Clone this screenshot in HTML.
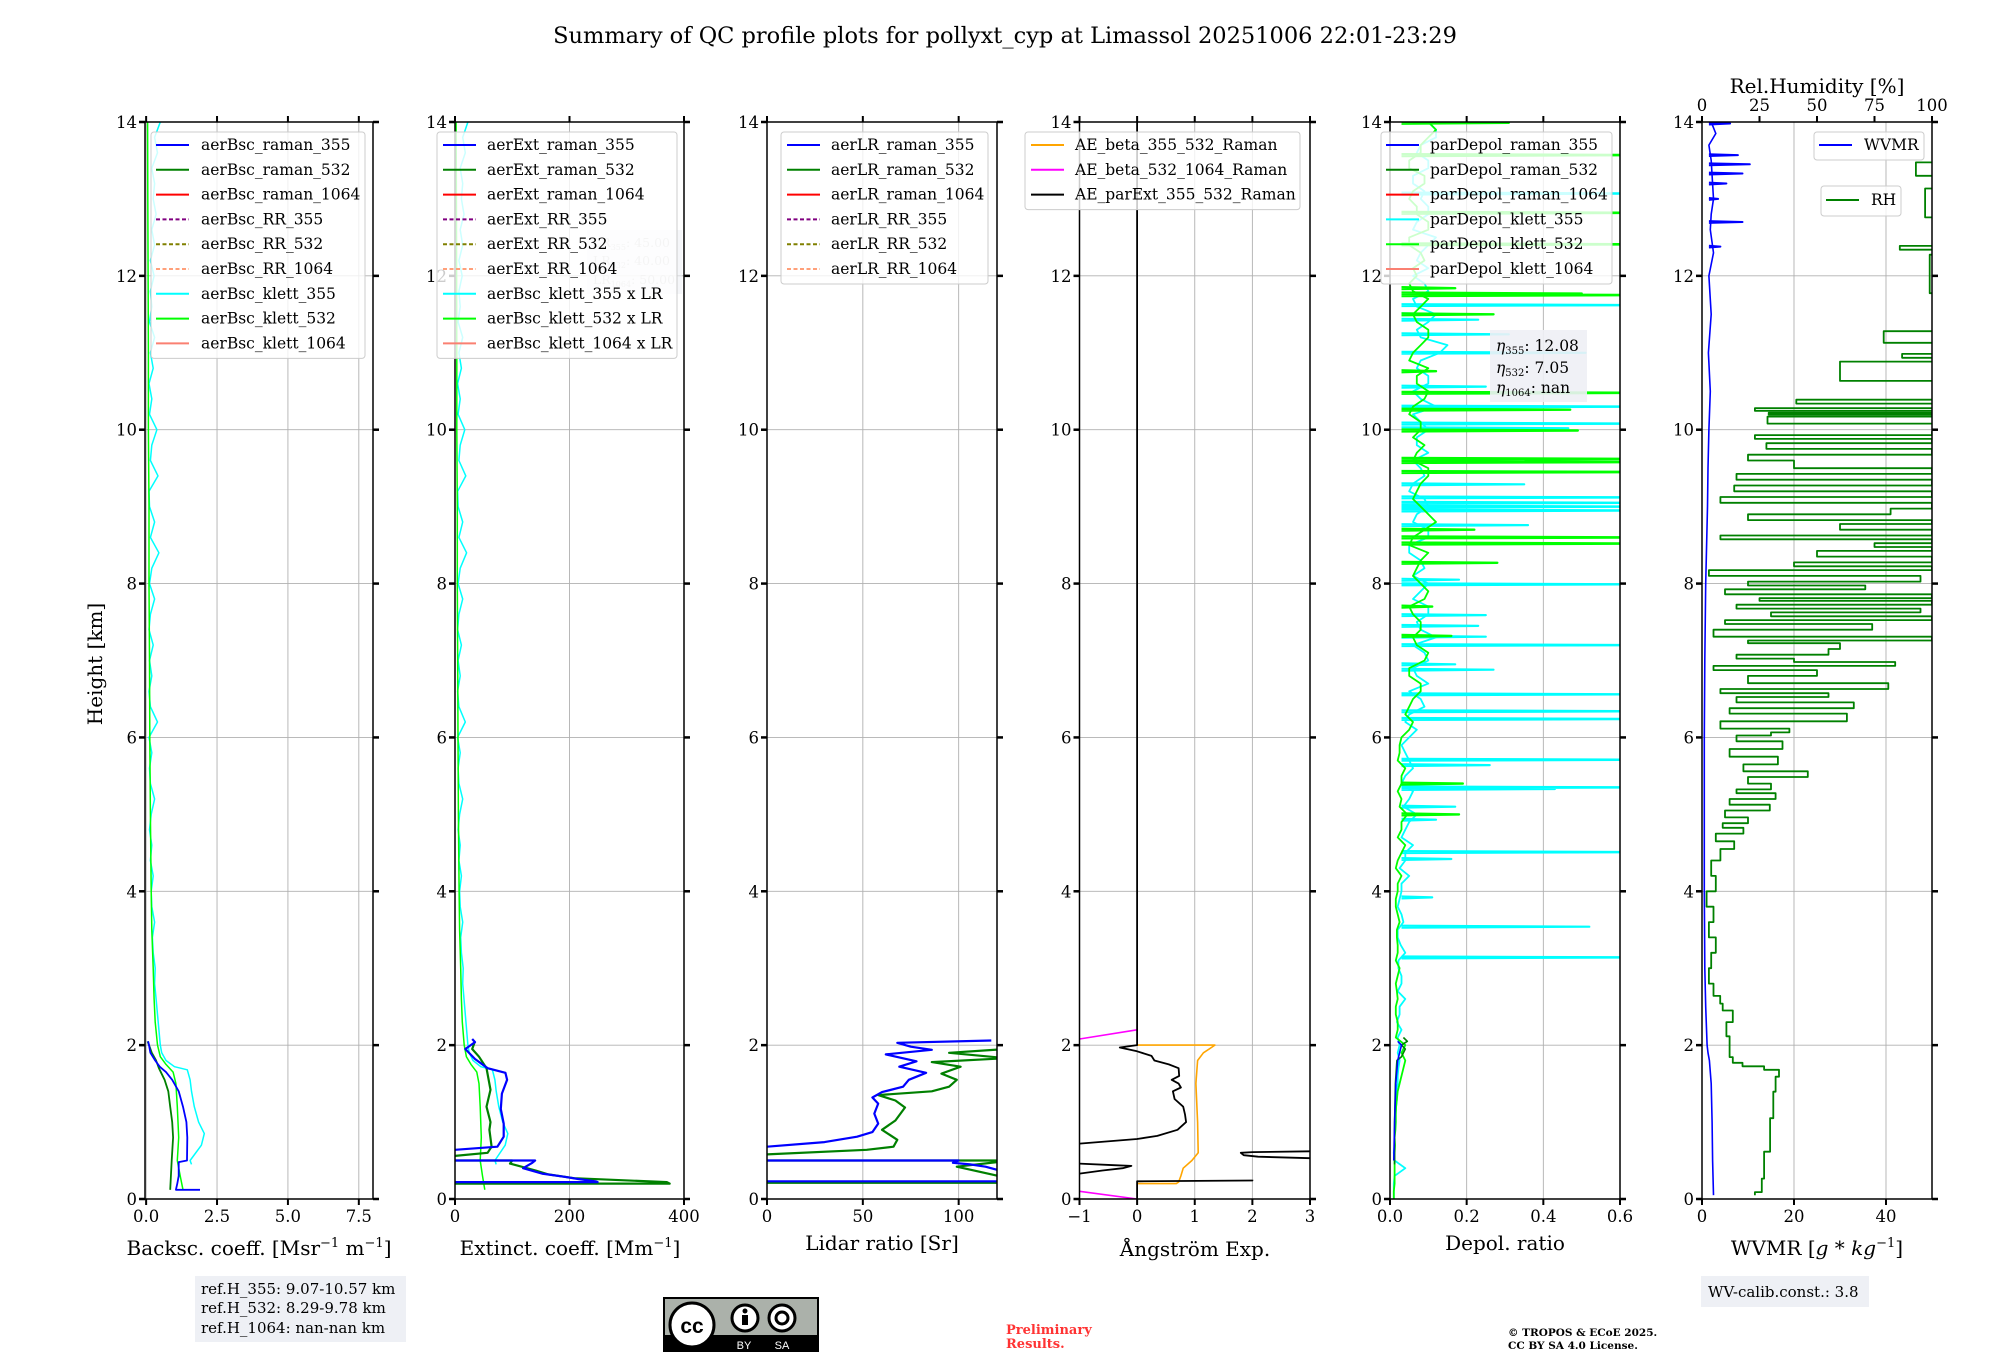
<!DOCTYPE html>
<html><head><meta charset="utf-8"><title>QC profile summary</title>
<style>
html,body{margin:0;padding:0;background:#fff;}
svg{display:block;font-family:"DejaVu Serif","Liberation Serif",serif;}
</style></head>
<body>
<svg id="fig" xmlns="http://www.w3.org/2000/svg" width="2000" height="1360" viewBox="0 0 2000 1360">
<rect x="0" y="0" width="2000" height="1360" fill="#fff"/>
<text x="1005" y="43" font-size="22.5" text-anchor="middle" fill="#000">Summary of QC profile plots for pollyxt_cyp at Limassol 20251006 22:01-23:29</text>
<text transform="translate(102,664) rotate(-90)" font-size="20" text-anchor="middle">Height [km]</text>
<text x="259" y="1255" font-size="20" text-anchor="middle">Backsc. coeff. [Msr<tspan dy="-8" font-size="13">−1</tspan><tspan dy="8"> m</tspan><tspan dy="-8" font-size="13">−1</tspan><tspan dy="8">]</tspan></text>
<text x="570" y="1255" font-size="20" text-anchor="middle">Extinct. coeff. [Mm<tspan dy="-8" font-size="13">−1</tspan><tspan dy="8">]</tspan></text>
<text x="882" y="1250" font-size="20" text-anchor="middle">Lidar ratio [Sr]</text>
<text x="1195" y="1256" font-size="20" text-anchor="middle">Ångström Exp.</text>
<text x="1505" y="1250" font-size="20" text-anchor="middle">Depol. ratio</text>
<text x="1817" y="1255" font-size="20" text-anchor="middle">WVMR [<tspan font-style="italic">g</tspan> * <tspan font-style="italic">kg</tspan><tspan dy="-8" font-size="13">−1</tspan><tspan dy="8">]</tspan></text>
<text x="1817" y="93" font-size="20" text-anchor="middle">Rel.Humidity [%]</text>
<g id="plots"></g>
<g>
<rect x="195" y="1276" width="211" height="66" fill="#eef0f5"/>
<text x="201" y="1294" font-size="15">ref.H_355: 9.07-10.57 km</text>
<text x="201" y="1313" font-size="15">ref.H_532: 8.29-9.78 km</text>
<text x="201" y="1333" font-size="15">ref.H_1064: nan-nan km</text>
</g>
<g>
<rect x="663" y="1297" width="156" height="55" fill="#000"/>
<rect x="665" y="1299" width="152" height="36" fill="#abb1aa"/>
<circle cx="692" cy="1325" r="22" fill="#fff" stroke="#000" stroke-width="3"/>
<text x="692" y="1333" font-family="Liberation Sans, sans-serif" font-weight="bold" font-size="21" text-anchor="middle">cc</text>
<circle cx="745" cy="1318" r="13" fill="#fff" stroke="#000" stroke-width="3"/>
<circle cx="745" cy="1311" r="2.5" fill="#000"/>
<rect x="742" y="1315" width="6" height="10" fill="#000"/>
<circle cx="782" cy="1318" r="13" fill="#fff" stroke="#000" stroke-width="3"/>
<circle cx="782" cy="1318" r="6" fill="none" stroke="#000" stroke-width="3"/>
<text x="744" y="1349" fill="#fff" font-family="Liberation Sans, sans-serif" font-size="11" text-anchor="middle">BY</text>
<text x="782" y="1349" fill="#fff" font-family="Liberation Sans, sans-serif" font-size="11" text-anchor="middle">SA</text>
</g>
<text x="1006" y="1334" font-size="13" font-weight="bold" fill="#ff3333">Preliminary</text>
<text x="1006" y="1348" font-size="13" font-weight="bold" fill="#ff3333">Results.</text>
<text x="1508" y="1336" font-size="10.5" font-weight="bold">© TROPOS &amp; ECoE 2025.</text>
<text x="1508" y="1349" font-size="10.5" font-weight="bold">CC BY SA 4.0 License.</text>
<rect x="1701" y="1276" width="168" height="31" fill="#eef0f5"/>
<text x="1708" y="1297" font-size="15">WV-calib.const.: 3.8</text>
</svg>
<script>
// ===== data (heights in km) =====
const yTickLabels = ["0","2","4","6","8","10","12","14"];
const yTickValues = [0,2,4,6,8,10,12,14];

// panel 1 backscatter
const bscTicks = [0,2.5,5,7.5];
const bscTickLabels = ["0.0","2.5","5.0","7.5"];
const bscH355 = [0.12,0.12,0.2,0.3,0.48,0.5,0.8,1.0,1.2,1.4,1.55,1.65,1.72,1.8,1.9,2.0,2.05];
const bscV355 = [1.9,1.05,1.1,1.15,1.15,1.44,1.45,1.42,1.3,1.15,0.92,0.7,0.48,0.32,0.15,0.1,0.07];
const bscH532 = [0.12,0.5,0.8,1.0,1.2,1.4,1.55,1.7,1.8,1.9,2.0,2.05];
const bscV532 = [0.85,0.9,0.95,0.92,0.85,0.78,0.65,0.45,0.35,0.2,0.1,0.05];
const klettBscH532 = [0.12,0.3,0.5,0.8,1.2,1.5,1.65,1.75,1.85,2.0,2.3,2.6,3,3.5,4,5,6,7,8,9,10,11,12,13,14];
const klettBscV532 = [1.3,1.2,1.1,1.15,1.1,1.05,0.95,0.7,0.5,0.4,0.32,0.28,0.25,0.2,0.18,0.15,0.13,0.12,0.1,0.1,0.08,0.08,0.07,0.06,0.05];
const klettBscLowH355 = [0.45,0.5,0.7,0.85,1.0,1.2,1.4,1.55,1.68,1.72,1.8,1.9,2.0];
const klettBscLowV355 = [1.6,1.55,1.95,2.05,1.85,1.7,1.6,1.55,1.45,1.0,0.7,0.55,0.5];
const klettBscNoiseStart = 2.2, klettBscNoiseStep = 0.2;
const klettBscNoise355 = [0.45,0.4,0.35,0.3,0.32,0.25,0.22,0.3,0.2,0.18,
 0.25,0.15,0.2,0.12,0.18,0.3,0.15,0.12,0.2,0.1,
 0.4,0.15,0.1,0.2,0.12,0.25,0.1,0.15,0.3,0.12,
 0.2,0.45,0.15,0.3,0.12,0.1,0.42,0.15,0.2,0.38,
 0.12,0.2,0.1,0.25,0.15,0.3,0.12,0.2,0.15,0.28,
 0.15,0.3,0.2,0.35,0.25,0.3,0.2,0.4,0.3,0.5];
const lidarRatio355 = 45, lidarRatio532 = 40;

// panel 2 extinction
const extTicks = [0,200,400];
const extTickLabels = ["0","200","400"];
const extH355 = [0.22,0.22,0.23,0.26,0.29,0.33,0.4,0.47,0.5,0.5,null,0.64,0.68,0.81,0.98,1.17,1.37,1.55,1.64,1.7,1.82,1.95,2.04,2.08];
const extV355 = [0,249,245,215,190,152,119,135,140,0,null,0,74,85,85,80,82,91,88,57,35,18,35,30];
const extH532 = [0.2,0.2,0.22,0.27,0.32,0.37,0.46,0.5,0.5,null,0.56,0.6,0.68,0.9,1.0,1.2,1.42,1.7,1.85,1.95,2.05];
const extV532 = [0,375,370,208,163,141,96,100,0,null,0,57,64,60,62,55,62,55,42,30,35];

// panel 3 lidar ratio
const lrTicks = [0,50,100];
const lrTickLabels = ["0","50","100"];
const lrH355 = [0.23,0.23,0.25,0.3,0.38,0.42,0.45,0.47,0.5,0.5,null,0.68,0.74,0.81,0.87,0.98,1.11,1.24,1.32,1.39,1.46,1.55,1.64,1.72,1.79,1.88,1.94,1.98,2.03,2.06];
const lrV355 = [0,130,130,125,120,114,106,97,100,0,null,0,30,47,55,58,56,58,55,60,71,74,83,69,78,62,86,75,68,117];
const lrH532 = [0.21,0.21,0.25,0.42,0.48,0.5,0.5,null,0.58,0.64,0.68,0.77,0.9,1.02,1.19,1.28,1.35,1.4,1.46,1.55,1.63,1.72,1.78,1.83,1.9,1.95,2.0];
const lrV532 = [0,130,130,99,120,125,0,null,0,52,66,68,60,67,72,67,58,86,95,99,91,101,86,125,95,125,130];

// panel 4 Angstrom
const aeTicks = [-1,0,1,2,3];
const aeTickLabels = ["−1","0","1","2","3"];
const aeParH = [14,2.0,1.97,1.92,1.86,1.8,1.75,1.7,1.6,1.55,1.5,1.45,1.4,1.3,1.2,1.1,1.0,0.9,0.82,0.78,0.72,null,0.46,0.44,0.43,0.40,0.37,0.33,null,0.62,0.61,0.6,0.57,0.55,0.53,null,0.25,0.24,0.23,0.0];
const aeParV = [0,0,-0.3,0.0,0.25,0.3,0.55,0.72,0.73,0.6,0.72,0.76,0.62,0.65,0.8,0.83,0.85,0.7,0.35,0,-1.0,null,-1,-0.4,-0.1,-0.25,-0.6,-1,null,3,2.0,1.8,1.85,2.1,3,null,2,2,0,0];
const aeBetaH = [2.0,2.0,1.95,1.9,1.8,1.5,1.0,0.6,0.5,0.4,0.3,0.22,0.2,0.2];
const aeBetaV = [0,1.35,1.25,1.15,1.05,1.02,1.05,1.06,0.95,0.8,0.76,0.72,0.68,0];
const aeBeta2H = [2.2,2.08,null,0.1,0.0];
const aeBeta2V = [0,-1,null,-1,0];

// panel 5 depol
const depTicks = [0,0.2,0.4,0.6];
const depTickLabels = ["0.0","0.2","0.4","0.6"];
const depRamanH355 = [0.5,1.0,1.5,1.8,1.9,2.0,2.05];
const depRamanV355 = [0.01,0.012,0.015,0.02,0.025,0.03,0.02];
const depRamanH532 = [0.45,1.0,1.5,1.8,1.85,1.95,2.0,2.05,2.1];
const depRamanV532 = [0.012,0.012,0.014,0.018,0.03,0.04,0.03,0.045,0.035];
const depBaseStep = 0.1;
const depKlettBase355 = [0.01,0.01,0.01,0.012,0.04,0.012,0.01,0.012,0.012,0.012,0.014,0.014,0.016,0.018,0.016,0.02,0.02,0.022,0.025,0.02,0.025,
 0.02,0.03,0.018,0.025,0.025,0.04,0.02,0.03,0.03,0.022,0.022,0.04,0.028,0.02,0.02,0.035,0.03,0.02,0.025,0.03,
 0.03,0.05,0.025,0.04,0.04,0.06,0.03,0.04,0.05,0.07,0.035,0.05,0.06,0.03,0.04,0.06,0.05,0.04,0.03,0.05,
 0.07,0.04,0.05,0.09,0.08,0.05,0.1,0.07,0.06,0.1,0.09,0.06,0.12,0.08,0.07,0.1,0.1,0.06,0.08,0.1,
 0.06,0.09,0.08,0.05,0.05,0.1,0.1,0.06,0.07,0.1,0.09,0.05,0.06,0.09,0.08,0.06,0.1,0.07,0.07,0.1,
 0.08,0.06,0.12,0.08,0.06,0.1,0.1,0.07,0.08,0.13,0.15,0.08,0.07,0.1,0.12,0.07,0.06,0.1,0.09,0.06,
 0.1,0.07,0.08,0.1,0.12,0.06,0.07,0.1,0.1,0.08,0.09,0.06,0.06,0.1,0.1,0.07,0.08,0.12,0.12,0.1];
const depKlettBase532 = [0.01,0.01,0.012,0.012,0.012,0.012,0.012,0.013,0.012,0.014,0.015,0.015,0.016,0.018,0.02,0.025,0.03,0.035,0.04,0.03,0.04,
 0.015,0.02,0.02,0.015,0.015,0.02,0.018,0.015,0.02,0.025,0.015,0.02,0.02,0.018,0.018,0.025,0.02,0.015,0.015,0.02,
 0.02,0.03,0.015,0.02,0.03,0.04,0.02,0.03,0.03,0.045,0.025,0.03,0.02,0.03,0.03,0.04,0.02,0.025,0.025,0.03,
 0.05,0.06,0.04,0.05,0.06,0.08,0.08,0.05,0.05,0.09,0.1,0.07,0.06,0.08,0.08,0.06,0.05,0.09,0.1,0.08,
 0.06,0.07,0.08,0.1,0.05,0.06,0.09,0.12,0.1,0.08,0.06,0.07,0.08,0.1,0.1,0.06,0.07,0.09,0.06,0.08,
 0.08,0.05,0.06,0.09,0.1,0.07,0.07,0.1,0.05,0.06,0.08,0.1,0.1,0.07,0.06,0.08,0.1,0.06,0.05,0.07,
 0.06,0.09,0.08,0.05,0.05,0.1,0.1,0.07,0.07,0.05,0.06,0.09,0.09,0.05,0.05,0.08,0.08,0.1,0.12,0.1];
const depSpikeH355 = [3.14,3.54,3.92,4.42,4.51,4.93,5.1,5.33,5.35,5.64,5.71,6.24,6.34,6.56,6.88,6.95,7.2,7.31,7.45,7.59,7.99,8.05,8.76,8.95,9.0,9.05,9.12,9.29,10.02,10.08,10.3,10.56,11.0,11.24,11.43,11.5,11.62,13.07];
const depSpikeV355 = [0.7,0.52,0.11,0.16,0.7,0.12,0.17,0.43,0.7,0.26,0.7,0.7,0.7,0.7,0.27,0.17,0.7,0.25,0.23,0.25,0.7,0.18,0.36,0.7,0.7,0.7,0.7,0.35,0.465,0.7,0.7,0.25,0.51,0.31,0.23,0.2,0.7,0.7];
const depSpikeH532 = [5.0,5.4,7.32,7.7,8.27,8.52,8.6,8.7,9.45,9.58,9.62,9.99,10.26,10.48,10.76,11.5,11.75,11.77,11.84,12.41,12.82,13.57,13.99];
const depSpikeV532 = [0.18,0.19,0.16,0.11,0.28,0.7,0.7,0.22,0.7,0.7,0.7,0.49,0.47,0.7,0.12,0.27,0.7,0.5,0.17,0.7,0.7,0.7,0.31];

// panel 6 WVMR / RH
const wvTicks = [0,20,40];
const wvTickLabels = ["0","20","40"];
const rhTicks = [0,25,50,75,100];
const rhTickLabels = ["0","25","50","75","100"];
const wvH = [0.05,0.5,1.0,1.5,1.8,1.9,2.0,2.5,3,4,5,6,7,8,8.5,9,9.5,10,10.5,11,11.5,12,12.3,12.6,12.8,13.0,13.5,13.7,13.85,14];
const wvV = [2.5,2.3,2.2,2.0,1.6,1.3,1.1,0.8,0.6,0.5,0.5,0.5,0.6,0.8,1.0,1.2,1.3,1.5,1.8,1.4,2.0,1.5,2.5,1.8,2,2.5,2,1.5,3,2];
const wvSpikeH = [12.38,12.7,13.0,13.2,13.33,13.45,13.57,13.98];
const wvSpikeV = [4,8.8,3.5,5.3,8.8,10.4,7.8,6.1];
const rhH = [0.05,0.13,0.4,0.83,1.27,1.52,1.66,1.7,1.75,1.79,1.9,2.03,2.2,2.4,2.5,2.58,2.7,2.9,3.1,3.3,3.5,3.7,3.9,4.1,4.3,4.5,
 4.6,4.7,4.8,4.85,4.92,5.0,5.1,5.15,5.25,5.3,5.35,5.45,5.52,5.6,5.7,5.8,5.9,6.0,6.05,6.08,6.15,6.27,6.35,6.41,6.5,6.55,6.6,6.66,6.75,6.85,6.9,6.96,7.0,7.05,7.1,7.2,7.25,7.27,7.35,7.45,7.5,7.55,7.6,7.65,7.7,7.75,7.8,7.82,7.9,7.95,8.0,8.05,8.15,8.2,8.25,8.3,8.4,8.45,8.5,8.55,8.6,8.65,8.75,8.8,8.85,8.95,9.0,9.1,9.15,9.25,9.3,9.4,9.45,9.55,9.65,9.7,9.8,9.85,9.91,9.95,10.0,10.16,10.18,10.21,10.23,10.26,10.3,10.38,10.4,10.87,10.9,10.97,11.0,11.26,11.3,12.25,12.3,12.38,12.4,13.12,13.15,13.45,13.5,14];
const rhV = [23,26,27,29.6,31,32,33.5,27,17.6,13.4,12,12,10.6,13.4,9,7.9,5,3,4,6,3,5,2,6,4,8,
 14,6,18,9,20,10,29.5,12,32,15,30,20,46,18,33,12,35,15,30,38,8,63,12,66,15,55,8,81,20,50,5,84,40,15,55,60,20,100,5,74,10,100,30,95,15,100,25,100,10,71,20,95,3,100,40,100,50,100,75,100,8,100,60,100,20,82,100,8,100,14,100,15,100,40,20,100,28,100,23,100,120,28.5,120,29,120,23,120,41,120,60,120,87,120,79,120,99,120,86,120,97,120,93,120,120];

// ===== drawing =====
const SVGNS = "http://www.w3.org/2000/svg";
const root = document.getElementById('plots');
const Y0 = 1199, KY = (1199-122)/14;
function Y(h){ return Y0 - h*KY; }
const panels = {
  bsc:{l:145,r:373,min:-0.04,max:8.0},
  ext:{l:455,r:684,min:0,max:400},
  lr:{l:767,r:997,min:0,max:120},
  ae:{l:1079.5,r:1310,min:-1,max:3},
  dep:{l:1390,r:1620,min:0,max:0.6},
  wv:{l:1702,r:1932,min:0,max:50},
  rh:{l:1702,r:1932,min:0,max:100}
};
function X(p,v){ return p.l + (v-p.min)/(p.max-p.min)*(p.r-p.l); }
function el(tag, parent){ const e=document.createElementNS(SVGNS,tag); parent.appendChild(e); return e; }
function pathD(p,H,V,scale){
  let d="", pen=false;
  for(let i=0;i<H.length;i++){
    if(H[i]===null||V[i]===null){pen=false;continue;}
    d += (pen?"L":"M")+X(p,V[i]*(scale||1)).toFixed(1)+","+Y(H[i]).toFixed(1);
    pen=true;
  }
  return d;
}
function stepD(p,H,V){
  let d="M"+X(p,V[0]).toFixed(1)+","+Y(H[0]).toFixed(1);
  for(let i=1;i<H.length;i++){
    const hm=(H[i-1]+H[i])/2;
    d+="L"+X(p,V[i-1]).toFixed(1)+","+Y(hm).toFixed(1)+"L"+X(p,V[i]).toFixed(1)+","+Y(hm).toFixed(1);
  }
  d+="L"+X(p,V[V.length-1]).toFixed(1)+","+Y(H[H.length-1]).toFixed(1);
  return d;
}
function style(e,color,w){
  e.setAttribute('fill','none');
  e.setAttribute('stroke',color);
  e.setAttribute('stroke-width',w);
  e.setAttribute('stroke-linejoin','round');
}
function series(g,p,H,V,color,w,name,scale){
  const e=el('path',g);
  e.setAttribute('d',pathD(p,H,V,scale));
  style(e,color,w);
  
  
  return e;
}
function stepSeries(g,p,H,V,color,w,name){
  const e=el('path',g);
  e.setAttribute('d',stepD(p,H,V));
  style(e,color,w);
  
  
  return e;
}
function spikeSeries(g,p,H,V,base,color,w,name){
  let d="";
  for(let i=0;i<H.length;i++){
    d+="M"+X(p,base).toFixed(1)+","+Y(H[i]-0.012).toFixed(1)+"L"+X(p,V[i]).toFixed(1)+","+Y(H[i]).toFixed(1)+"L"+X(p,base).toFixed(1)+","+Y(H[i]+0.012).toFixed(1);
  }
  const e=el('path',g);
  e.setAttribute('d',d);
  style(e,color,w);
  
  
  return e;
}
function noiseHeights(start,step,n){ const a=[]; for(let i=0;i<n;i++) a.push(+(start+i*step).toFixed(3)); return a; }

let clipId=0;
function axes(key,ticks,labels,name){
  const p=panels[key];
  const g=el('g',root);
  
  
  const grid=el('g',g);
  
  
  ticks.forEach(t=>{ const l=el('line',grid); l.setAttribute('x1',X(p,t)); l.setAttribute('x2',X(p,t)); l.setAttribute('y1',122); l.setAttribute('y2',1199); l.setAttribute('stroke','#b0b0b0'); l.setAttribute('stroke-width',0.9);
    
     });
  yTickValues.forEach(t=>{ const l=el('line',grid); l.setAttribute('x1',p.l); l.setAttribute('x2',p.r); l.setAttribute('y1',Y(t)); l.setAttribute('y2',Y(t)); l.setAttribute('stroke','#b0b0b0'); l.setAttribute('stroke-width',0.9);
    
     });
  const cp=el('clipPath',g); cp.setAttribute('id','c'+(++clipId));
  const cr=el('rect',cp); cr.setAttribute('x',p.l); cr.setAttribute('y',122); cr.setAttribute('width',p.r-p.l); cr.setAttribute('height',1077);
  const data=el('g',g); data.setAttribute('clip-path','url(#c'+clipId+')');
  
  
  return {g,data,p};
}
function frame(ax,ticks,labels,name,topTicks){
  const {g,p}=ax;
  const f=el('g',g);
  
  
  const r=el('rect',f); r.setAttribute('x',p.l); r.setAttribute('y',122); r.setAttribute('width',p.r-p.l); r.setAttribute('height',1077); r.setAttribute('fill','none'); r.setAttribute('stroke','#000'); r.setAttribute('stroke-width',1.5);
  
  
  yTickValues.forEach((t,i)=>{
    [[p.l-6,p.l],[p.r,p.r+6]].forEach(xx=>{ const l=el('line',f); l.setAttribute('x1',xx[0]); l.setAttribute('x2',xx[1]); l.setAttribute('y1',Y(t)); l.setAttribute('y2',Y(t)); l.setAttribute('stroke','#000'); l.setAttribute('stroke-width',2.5);
      
       });
    const tx=el('text',f); tx.setAttribute('x',p.l-8); tx.setAttribute('y',Y(t)+6); tx.setAttribute('font-size',16.5); tx.setAttribute('text-anchor','end'); tx.textContent=yTickLabels[i];
    
    
  });
  ticks.forEach((t,i)=>{
    const x=X(p,t);
    const b=el('line',f); b.setAttribute('x1',x); b.setAttribute('x2',x); b.setAttribute('y1',1199); b.setAttribute('y2',1205); b.setAttribute('stroke','#000'); b.setAttribute('stroke-width',2);
    
    
    if(!topTicks){ const tt=el('line',f); tt.setAttribute('x1',x); tt.setAttribute('x2',x); tt.setAttribute('y1',116); tt.setAttribute('y2',122); tt.setAttribute('stroke','#000'); tt.setAttribute('stroke-width',2);
      
       }
    const tx=el('text',f); tx.setAttribute('x',x); tx.setAttribute('y',1222); tx.setAttribute('font-size',16.5); tx.setAttribute('text-anchor','middle'); tx.textContent=labels[i];
    
    
  });
  if(topTicks){
    const q=panels.rh;
    topTicks.forEach((t,i)=>{ const x=X(q,t);
      const tt=el('line',f); tt.setAttribute('x1',x); tt.setAttribute('x2',x); tt.setAttribute('y1',116); tt.setAttribute('y2',122); tt.setAttribute('stroke','#000'); tt.setAttribute('stroke-width',2);
      
      
      const tx=el('text',f); tx.setAttribute('x',x); tx.setAttribute('y',111); tx.setAttribute('font-size',16.5); tx.setAttribute('text-anchor','middle'); tx.textContent=rhTickLabels[i];
      
      
    });
  }
}
function legend(parent,x,y,w,entries,name,rowStart,rowH,hx,tx){
  const g=el('g',parent);
  
  
  const r=el('rect',g); r.setAttribute('x',x); r.setAttribute('y',y); r.setAttribute('width',w); r.setAttribute('height',entries.length*rowH+ (rowStart-y)*2 - rowH + 2); r.setAttribute('rx',3);
  r.setAttribute('fill','#fff'); r.setAttribute('fill-opacity',0.8); r.setAttribute('stroke','#cccccc'); r.setAttribute('stroke-width',1);
  
  
  entries.forEach((e,i)=>{
    const yy=rowStart+i*rowH;
    const l=el('line',g); l.setAttribute('x1',hx); l.setAttribute('x2',hx+33); l.setAttribute('y1',yy); l.setAttribute('y2',yy); l.setAttribute('stroke',e[1]); l.setAttribute('stroke-width',2);
    if(e[2]) l.setAttribute('stroke-dasharray','4,2.5');
    
    
    const t=el('text',g); t.setAttribute('x',tx); t.setAttribute('y',yy+5); t.setAttribute('font-size',15.5); t.textContent=e[0];
    
    
  });
  return g;
}

// ---- panel 1
const a1=axes('bsc',bscTicks,bscTickLabels,'backscatter');
const nH = noiseHeights(klettBscNoiseStart,klettBscNoiseStep,klettBscNoise355.length);
const kH355 = klettBscLowH355.concat(nH), kV355 = klettBscLowV355.concat(klettBscNoise355);
series(a1.data,a1.p,kH355,kV355,'#00ffff',1.5,'aerBsc-klett-355-line');
series(a1.data,a1.p,klettBscH532,klettBscV532,'#00ff00',1.5,'aerBsc-klett-532-line');
series(a1.data,a1.p,bscH532,bscV532,'#008000',1.8,'aerBsc-raman-532-line');
series(a1.data,a1.p,bscH355,bscV355,'#0000ff',1.8,'aerBsc-raman-355-line');
frame(a1,bscTicks,bscTickLabels,'backscatter');
legend(a1.g,151,132,214,[["aerBsc_raman_355","#0000ff"],["aerBsc_raman_532","#008000"],["aerBsc_raman_1064","#ff0000"],["aerBsc_RR_355","#800080",1],["aerBsc_RR_532","#808000",1],["aerBsc_RR_1064","#ffa07a",1],["aerBsc_klett_355","#00ffff"],["aerBsc_klett_532","#00ff00"],["aerBsc_klett_1064","#fa8072"]],'backscatter-legend',145,24.8,156,201);

// ---- panel 2
const a2=axes('ext',extTicks,extTickLabels,'extinction');
series(a2.data,a2.p,kH355,kV355,'#00ffff',1.5,'aerBsc-klett-355-x-LR-line',lidarRatio355);
series(a2.data,a2.p,klettBscH532,klettBscV532,'#00ff00',1.5,'aerBsc-klett-532-x-LR-line',lidarRatio532);
series(a2.data,a2.p,extH532,extV532,'#008000',2.2,'aerExt-raman-532-line');
series(a2.data,a2.p,extH355,extV355,'#0000ff',2.2,'aerExt-raman-355-line');
frame(a2,extTicks,extTickLabels,'extinction');
(function(){
  const g=el('g',a2.g);
  
  
  const r=el('rect',g); r.setAttribute('x',587); r.setAttribute('y',230); r.setAttribute('width',95); r.setAttribute('height',64); r.setAttribute('fill','#eef0f5'); r.setAttribute('fill-opacity',0.6);
  
  
  [["LR","355",": 45.00",247],["LR","532",": 40.00",265],["LR","1064",": 50.00",284]].forEach(s=>{
    const t=el('text',g); t.setAttribute('x',593); t.setAttribute('y',s[3]); t.setAttribute('font-size',12.5); t.setAttribute('fill','#c8c8c8');
    t.innerHTML=s[0]+'<tspan font-size="8" dy="3">'+s[1]+'</tspan><tspan dy="-3">'+s[2]+'</tspan>';
    
    
  });
})();
legend(a2.g,437,132,240,[["aerExt_raman_355","#0000ff"],["aerExt_raman_532","#008000"],["aerExt_raman_1064","#ff0000"],["aerExt_RR_355","#800080",1],["aerExt_RR_532","#808000",1],["aerExt_RR_1064","#ffa07a",1],["aerBsc_klett_355 x LR","#00ffff"],["aerBsc_klett_532 x LR","#00ff00"],["aerBsc_klett_1064 x LR","#fa8072"]],'extinction-legend',145,24.8,443,487);

// ---- panel 3
const a3=axes('lr',lrTicks,lrTickLabels,'lidar-ratio');
series(a3.data,a3.p,lrH532,lrV532,'#008000',2.2,'aerLR-raman-532-line');
series(a3.data,a3.p,lrH355,lrV355,'#0000ff',2.2,'aerLR-raman-355-line');
frame(a3,lrTicks,lrTickLabels,'lidar-ratio');
legend(a3.g,781,132,207,[["aerLR_raman_355","#0000ff"],["aerLR_raman_532","#008000"],["aerLR_raman_1064","#ff0000"],["aerLR_RR_355","#800080",1],["aerLR_RR_532","#808000",1],["aerLR_RR_1064","#ffa07a",1]],'lidar-ratio-legend',145,24.8,787,831);

// ---- panel 4
const a4=axes('ae',aeTicks,aeTickLabels,'angstrom');
series(a4.data,a4.p,aeBeta2H,aeBeta2V,'#ff00ff',1.6,'AE-beta-532-1064-line');
series(a4.data,a4.p,aeBetaH,aeBetaV,'#ffa500',1.6,'AE-beta-355-532-line');
series(a4.data,a4.p,aeParH,aeParV,'#000000',1.8,'AE-parExt-355-532-line');
frame(a4,aeTicks,aeTickLabels,'angstrom');
legend(a4.g,1025,132,275,[["AE_beta_355_532_Raman","#ffa500"],["AE_beta_532_1064_Raman","#ff00ff"],["AE_parExt_355_532_Raman","#000000"]],'angstrom-legend',145,24.8,1031,1075);

// ---- panel 5
const a5=axes('dep',depTicks,depTickLabels,'depol');
const dbH = noiseHeights(0,depBaseStep,depKlettBase355.length);
series(a5.data,a5.p,dbH,depKlettBase355,'#00ffff',1.8,'parDepol-klett-355-line');
spikeSeries(a5.data,a5.p,depSpikeH355,depSpikeV355,0.03,'#00ffff',2.2,'parDepol-klett-355-spikes');
series(a5.data,a5.p,dbH,depKlettBase532,'#00ff00',1.8,'parDepol-klett-532-line');
spikeSeries(a5.data,a5.p,depSpikeH532,depSpikeV532,0.03,'#00ff00',2.4,'parDepol-klett-532-spikes');
series(a5.data,a5.p,depRamanH532,depRamanV532,'#008000',1.6,'parDepol-raman-532-line');
series(a5.data,a5.p,depRamanH355,depRamanV355,'#0000ff',1.6,'parDepol-raman-355-line');
frame(a5,depTicks,depTickLabels,'depol');
legend(a5.g,1381,132,231,[["parDepol_raman_355","#0000ff"],["parDepol_raman_532","#008000"],["parDepol_raman_1064","#ff0000"],["parDepol_klett_355","#00ffff"],["parDepol_klett_532","#00ff00"],["parDepol_klett_1064","#fa8072"]],'depol-legend',145,24.8,1386,1430);
(function(){
  const g=el('g',a5.g);
  
  
  const r=el('rect',g); r.setAttribute('x',1490); r.setAttribute('y',330); r.setAttribute('width',97); r.setAttribute('height',72); r.setAttribute('fill','#eef0f5'); r.setAttribute('fill-opacity',0.9);
  
  
  [["355",": 12.08",351],["532",": 7.05",373],["1064",": nan",393]].forEach(s=>{
    const t=el('text',g); t.setAttribute('x',1496); t.setAttribute('y',s[2]); t.setAttribute('font-size',15.5);
    t.innerHTML='<tspan font-style="italic">η</tspan><tspan font-size="10" dy="3">'+s[0]+'</tspan><tspan dy="-3">'+s[1]+'</tspan>';
    
    
  });
})();

// ---- panel 6
const a6=axes('wv',wvTicks,wvTickLabels,'wvmr');
stepSeries(a6.data,panels.rh,rhH,rhV,'#008000',1.8,'rh-line');
series(a6.data,a6.p,wvH,wvV,'#0000ff',1.6,'wvmr-line');
spikeSeries(a6.data,a6.p,wvSpikeH,wvSpikeV,1.5,'#0000ff',2,'wvmr-spikes');
frame(a6,wvTicks,wvTickLabels,'wvmr',rhTicks);
legend(a6.g,1814,132,110,[["WVMR","#0000ff"]],'wvmr-legend',145,24.8,1819,1864);
legend(a6.g,1821,186,80,[["RH","#008000"]],'rh-legend',200,24.8,1826,1871);
</script>
</body></html>
